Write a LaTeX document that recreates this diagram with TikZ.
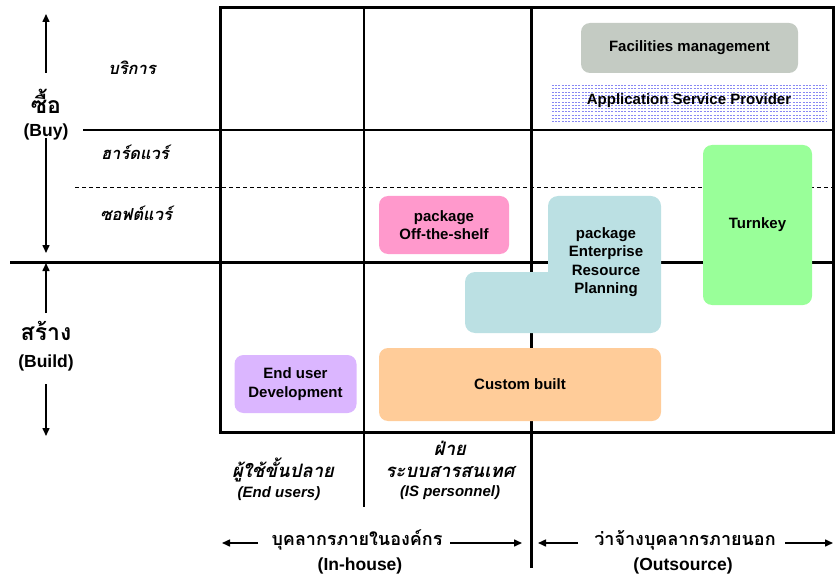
\documentclass[tikz,border=0pt]{standalone}
\usepackage{fontspec}
\setmainfont{Liberation Sans}
\newfontfamily\thai[Script=Thai]{Loma}
\usetikzlibrary{arrows.meta,calc}

\definecolor{fmgray}{HTML}{C4CBC3}
\definecolor{otspink}{HTML}{FF99CC}
\definecolor{erpteal}{HTML}{BBE0E3}
\definecolor{turngreen}{HTML}{99FF99}
\definecolor{eulilac}{HTML}{DBB6FF}
\definecolor{custpeach}{HTML}{FFCC99}
\definecolor{aspblue}{HTML}{6A6AF0}

\tikzset{
  frameline/.style={line width=3pt},
  thinline/.style={line width=1.6pt},
  dashline/.style={line width=1pt, dash pattern=on 4pt off 3pt},
  arr/.style={line width=1.5pt, -{Triangle[length=8pt,width=7pt]}},
  box/.style={rounded corners=9pt, inner sep=0pt, align=center,
    font=\bfseries\fontsize{15}{18.5}\selectfont},
  boxtext/.style={inner sep=0pt, align=center,
    font=\bfseries\fontsize{15}{18.5}\selectfont},
  enlabel/.style={inner sep=0pt, font=\bfseries\fontsize{17.5}{20}\selectfont},
  thbig/.style={inner sep=0pt, text depth=0pt, font=\thai\bfseries\fontsize{23}{24}\selectfont},
  throw/.style={inner sep=0pt, font=\thai\bfseries\itshape\fontsize{16.5}{18}\selectfont},
  thcol/.style={inner sep=0pt, align=center, font=\thai\bfseries\itshape\fontsize{18.5}{22}\selectfont},
  encol/.style={inner sep=0pt, font=\bfseries\itshape\fontsize{15}{18}\selectfont},
  thbottom/.style={inner sep=0pt, font=\thai\bfseries\fontsize{18}{20}\selectfont},
  asprow/.style={line width=0.55pt, aspblue!80, dash pattern=on 2pt off 1.3pt},
}

\begin{document}
\begin{tikzpicture}[x=1pt,y=-1pt]
\useasboundingbox (0,0) rectangle (837,585);

% ---- grid of the matrix ----
\draw[thinline] (83,130) -- (834,130);
\draw[dashline] (75,188) -- (834,188);
\draw[frameline] (10,262) -- (834,262);
\draw[thinline] (364,8) -- (364,507);
\draw[frameline] (531,8) -- (531,568);
\draw[frameline] (220,8) rectangle (833,432);

% ---- solution boxes ----
\node[box, fill=fmgray, minimum width=217pt, minimum height=50pt] (fm) at (689.5,48) {Facilities management};

% application service provider: striped band
\path node[inner sep=0pt, minimum width=274pt, minimum height=40pt] (aspband) at (689,104) {};
\foreach \i in {1.5,4.8,...,39} {
  \draw[asprow] ($(aspband.north west)+(0,\i)$) -- ($(aspband.north east)+(0,\i)$);
}
\node[boxtext] (asp) at (689,101) {Application Service Provider};

\node[box, fill=otspink, minimum width=130pt, minimum height=58pt] (ots) at (444,225) {package\\Off-the-shelf};

% ERP: L-shaped region
\fill[erpteal, rounded corners=10pt] (548,272) -- (548,196) -- (661,196) -- (661,333) -- (465,333) -- (465,272) -- (548,272);
\node[boxtext] (erp) at (606,262) {package\\Enterprise\\Resource\\Planning};

\node[box, fill=turngreen, minimum width=109pt, minimum height=160pt] (turn) at (757.5,225) {Turnkey};

\node[box, fill=eulilac, minimum width=122pt, minimum height=58pt] (eud) at (295.5,384) {End user\\Development};

\node[box, fill=custpeach, minimum width=282pt, minimum height=73pt] (cust) at (520,384.5) {Custom built};

% ---- row labels ----
\node[throw] (svc) at (132,68) {บริการ};
\node[throw] (hw) at (135,152) {ฮาร์ดแวร์};
\node[throw] (sw) at (136,213) {ซอฟต์แวร์};

\node[thbig] (buyth) at (46,101) {ซื้อ};
\node[enlabel] (buyen) at (46,132) {(Buy)};
\coordinate (buytop) at (46,14);
\coordinate (buybot) at (46,253);
\draw[arr] (buyth) ++(0,-28) -- (buytop);
\draw[arr] (buyen) ++(0,6) -- (buybot);

\node[thbig] (buildth) at (46,331) {สร้าง};
\node[enlabel] (builden) at (46,363) {(Build)};
\coordinate (buildtop) at (46,263);
\coordinate (buildbot) at (46,436);
\draw[arr] (buildth) ++(0,-18) -- (buildtop);
\draw[arr] (builden) ++(0,21) -- (buildbot);

% ---- column labels ----
\node[thcol] (euth) at (283,470) {ผู้ใช้ขั้นปลาย};
\node[encol] (euen) at (279,494) {(End users)};
\node[thcol] (isth) at (450,459) {ฝ่าย\\ระบบสารสนเทศ};
\node[encol] (isen) at (450,493) {(IS personnel)};

\node[thbottom] (ih) at (357,540) {บุคลากรภายในองค์กร};
\node[enlabel] (ihen) at (360,566) {(In-house)};
\coordinate (ihleft) at (222,543);
\coordinate (ihright) at (522,543);
\draw[arr] (ih) ++(-99,3) -- (ihleft);
\draw[arr] (ih) ++(93,3) -- (ihright);

\node[thbottom] (os) at (685,540) {ว่าจ้างบุคลากรภายนอก};
\node[enlabel] (osen) at (683,566) {(Outsource)};
\coordinate (osleft) at (538,543);
\coordinate (osright) at (833,543);
\draw[arr] (os) ++(-107,3) -- (osleft);
\draw[arr] (os) ++(100,3) -- (osright);
\end{tikzpicture}
\end{document}
